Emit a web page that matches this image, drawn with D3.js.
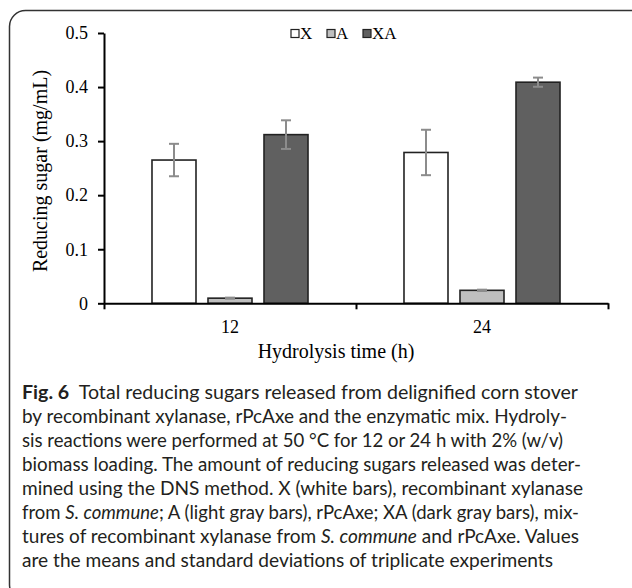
<!DOCTYPE html>
<html>
<head>
<meta charset="utf-8">
<script src="https://cdn.jsdelivr.net/npm/d3@7"></script>
<style>
body { margin: 0; background: #fff; }
svg { display: block; }
.tick text { font-family: "Liberation Serif", "Times New Roman", serif; }
</style>
</head>
<body>
<svg id="mysvg" width="632" height="588"></svg>
<script>
var categories = ['12', '24']
var series = ['X', 'A', 'XA']
var meanX = [0.265, 0.279]
var meanA = [0.0095, 0.024]
var meanXA = [0.312, 0.409]
var sdX = [0.030, 0.042]
var sdA = [0.001, 0.0012]
var sdXA = [0.0265, 0.0085]
var yTicks = [0, 0.1, 0.2, 0.3, 0.4, 0.5]
var fills = {'X': '#ffffff', 'A': '#bfbfbf', 'XA': '#606060'}

var captionLines = [
	[{t: 'Fig. 6', b: true}, {t: 'Total reducing sugars released from delignified corn stover', dx: 9}],
	[{t: 'by recombinant xylanase, rPcAxe and the enzymatic mix. Hydroly-'}],
	[{t: 'sis reactions were performed at 50 °C for 12 or 24 h with 2% (w/v)'}],
	[{t: 'biomass loading. The amount of reducing sugars released was deter-'}],
	[{t: 'mined using the DNS method. X (white bars), recombinant xylanase'}],
	[{t: 'from '}, {t: 'S. commune', i: true}, {t: '; A (light gray bars), rPcAxe; XA (dark gray bars), mix-'}],
	[{t: 'tures of recombinant xylanase from '}, {t: 'S. commune', i: true}, {t: ' and rPcAxe. Values'}],
	[{t: 'are the means and standard deviations of triplicate experiments'}]
]
var captionWidths = [556, 545, 541, 559, 561, 557, 557, 531]

var means = {'X': meanX, 'A': meanA, 'XA': meanXA}
var sds = {'X': sdX, 'A': sdA, 'XA': sdXA}

var svg = d3.select('#mysvg')

// card border
svg.append('rect')
	.attr('x', 9.5).attr('y', 10.5)
	.attr('width', 640).attr('height', 590)
	.attr('rx', 16).attr('ry', 16)
	.attr('fill', 'none').attr('stroke', '#333').attr('stroke-width', 1.5)

var y = d3.scaleLinear().domain([0, 0.5]).range([303.3, 33])
var x = d3.scaleBand().domain(categories).range([104, 608]).paddingInner(0).paddingOuter(0)
var xs = d3.scaleBand().domain(series).range([0, x.bandwidth()]).paddingInner(0.2143).paddingOuter(0.857)

var data = []
for (var i = 0; i < categories.length; i++) {
	for (var j = 0; j < series.length; j++) {
		var s = series[j]
		data.push({cat: categories[i], s: s, v: means[s][i], sd: sds[s][i]})
	}
}

// bars
svg.append('g').selectAll('rect').data(data).enter().append('rect')
	.attr('x', function(d) { return x(d.cat) + xs(d.s) })
	.attr('y', function(d) { return y(d.v) })
	.attr('width', xs.bandwidth())
	.attr('height', function(d) { return y(0) - y(d.v) })
	.attr('fill', function(d) { return fills[d.s] })
	.attr('stroke', '#222').attr('stroke-width', 1.6)

// error bars
var eb = svg.append('g').attr('stroke', '#8c8c8c').attr('stroke-width', 2)
data.forEach(function(d) {
	var cx = x(d.cat) + xs(d.s) + xs.bandwidth() / 2
	var y1 = y(d.v + d.sd)
	var y2 = y(d.v - d.sd)
	eb.append('line').attr('x1', cx).attr('x2', cx).attr('y1', y1).attr('y2', y2)
	eb.append('line').attr('x1', cx - 5).attr('x2', cx + 5).attr('y1', y1).attr('y2', y1)
	eb.append('line').attr('x1', cx - 5).attr('x2', cx + 5).attr('y1', y2).attr('y2', y2)
})

// y axis
var yAxis = d3.axisLeft(y).tickValues(yTicks)
	.tickFormat(function(d) { return d === 0 ? '0' : d3.format('.1f')(d) })
	.tickSize(6).tickSizeOuter(0).tickPadding(10)
var gy = svg.append('g').attr('transform', 'translate(104,0)').call(yAxis)
gy.select('.domain').attr('stroke', '#000').attr('stroke-width', 2)
gy.selectAll('.tick line').attr('stroke', '#000').attr('stroke-width', 2)
gy.selectAll('.tick text').attr('font-size', 18).attr('fill', '#000')

// x axis: ticks at group boundaries
var xAxisScale = d3.scaleLinear().domain([0, 2]).range([104, 608])
var xAxis = d3.axisBottom(xAxisScale).tickValues([0, 1, 2]).tickFormat('').tickSize(6).tickSizeOuter(0)
var gx = svg.append('g').attr('transform', 'translate(0,' + y(0) + ')').call(xAxis)
gx.select('.domain').attr('stroke', '#000').attr('stroke-width', 2)
gx.selectAll('.tick line').attr('stroke', '#000').attr('stroke-width', 2)

svg.append('g').selectAll('text').data(categories).enter().append('text')
	.attr('x', function(d) { return x(d) + x.bandwidth() / 2 })
	.attr('y', 333)
	.attr('text-anchor', 'middle')
	.attr('font-family', '"Liberation Serif", serif').attr('font-size', 18)
	.text(function(d) { return d })

// axis titles
svg.append('text')
	.attr('x', 336).attr('y', 358)
	.attr('text-anchor', 'middle')
	.attr('font-family', '"Liberation Serif", serif').attr('font-size', 20)
	.text('Hydrolysis time (h)')

svg.append('text')
	.attr('transform', 'translate(47,171) rotate(-90)')
	.attr('text-anchor', 'middle')
	.attr('font-family', '"Liberation Serif", serif').attr('font-size', 20)
	.text('Reducing sugar (mg/mL)')

// legend
var legX = [291, 327, 363]
var lg = svg.append('g')
series.forEach(function(s, k) {
	lg.append('rect').attr('x', legX[k]).attr('y', 29.5).attr('width', 8).attr('height', 8)
		.attr('fill', fills[s]).attr('stroke', '#222').attr('stroke-width', 1.2)
	lg.append('text').attr('x', legX[k] + 9).attr('y', 39.3)
		.attr('font-family', '"Liberation Serif", serif').attr('font-size', 17)
		.text(s)
})

// caption
var cap = svg.append('g')
captionLines.forEach(function(line, k) {
	var t = cap.append('text')
		.attr('x', 22).attr('y', 399 + k * 24)
		.attr('font-family', 'Lato, "Open Sans", sans-serif').attr('font-size', 18.5)
		.attr('fill', '#231f20')
		.attr('textLength', captionWidths[k]).attr('lengthAdjust', 'spacingAndGlyphs')
	line.forEach(function(p) {
		var ts = t.append('tspan').text(p.t)
		if (p.b) ts.attr('font-weight', 'bold')
		if (p.i) ts.attr('font-style', 'italic')
		if (p.dx) ts.attr('dx', p.dx)
	})
})
</script>
</body>
</html>
